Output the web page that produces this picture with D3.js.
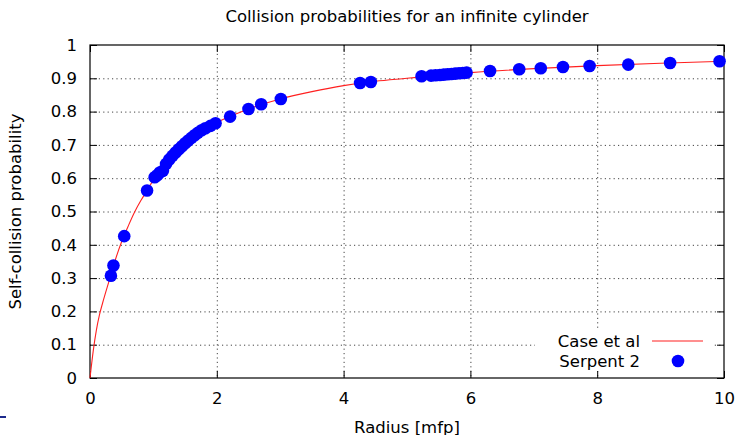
<!DOCTYPE html>
<html>
<head>
<meta charset="utf-8">
<script src="https://cdn.jsdelivr.net/npm/d3@7"></script>
<style>
  body { margin: 0; background: #fff; }
  text { font-family: "DejaVu Sans", sans-serif; fill: #000; }
</style>
</head>
<body>
<div id="chart"></div>
<script>
// Collision probabilities for an infinite cylinder (gnuplot look-alike)

// DATA
// Case et al reference curve
var caseRadius = [0, 0.05, 0.1, 0.15, 0.2, 0.3, 0.4, 0.5, 0.6, 0.7, 0.8, 0.9, 1.0, 1.2, 1.4,
    1.6, 1.8, 2.0, 2.5, 3.0, 3.5, 4.0, 4.5, 5.0, 5.5, 6.0, 7.0, 8.0, 9.0, 10.0];
var caseProb = [0, 0.08, 0.143, 0.19, 0.226, 0.291, 0.355, 0.41, 0.455, 0.497, 0.532, 0.563, 0.595, 0.645, 0.687,
    0.721, 0.749, 0.768, 0.808, 0.838, 0.860, 0.878, 0.891, 0.900, 0.909, 0.917, 0.929, 0.938, 0.945, 0.951];

// Serpent 2 results
var serpentRadius = [0.33, 0.37, 0.54, 0.90, 1.02, 1.06, 1.10, 1.15, 1.20, 1.25, 1.30, 1.35, 1.40, 1.45,
    1.50, 1.55, 1.60, 1.65, 1.70, 1.76, 1.82, 1.90, 1.98, 2.21, 2.50, 2.70, 3.01, 4.26, 4.43,
    5.23, 5.38, 5.45, 5.52, 5.58, 5.64, 5.70, 5.76, 5.82, 5.88, 5.94, 6.31, 6.77, 7.11, 7.46,
    7.88, 8.49, 9.15, 9.93];
var serpentProb = [0.307, 0.338, 0.426, 0.563, 0.603, 0.609, 0.617, 0.622, 0.643, 0.656, 0.667, 0.677, 0.687, 0.696,
    0.705, 0.713, 0.721, 0.729, 0.736, 0.744, 0.750, 0.757, 0.765, 0.785, 0.808, 0.822, 0.838, 0.886, 0.889,
    0.906, 0.908, 0.909, 0.910, 0.911, 0.912, 0.913, 0.914, 0.915, 0.916, 0.917, 0.922, 0.927, 0.930, 0.934,
    0.937, 0.941, 0.946, 0.951];

// Ticks
var xTicks = [0, 2, 4, 6, 8, 10];
var xTickLabels = ["0", "2", "4", "6", "8", "10"];
var yTicks = [0, 0.1, 0.2, 0.3, 0.4, 0.5, 0.6, 0.7, 0.8, 0.9, 1];
var yTickLabels = ["0", "0.1", "0.2", "0.3", "0.4", "0.5", "0.6", "0.7", "0.8", "0.9", "1"];

// Legend entries
var legendNames = ["Case et al", "Serpent 2"];

// LAYOUT
var width = 739;
var height = 435;
var plotLeft = 90;
var plotRight = 724;
var plotTop = 45;
var plotBottom = 378;
var fontSize = 16.5;
var tickLen = 7;

var svg = d3
    .select("#chart")
    .append("svg")
    .attr("width", width)
    .attr("height", height);

// Scales
var xScale = d3.scaleLinear().domain([0, 10]).range([plotLeft, plotRight]);
var yScale = d3.scaleLinear().domain([0, 1]).range([plotBottom, plotTop]);

// GRID
var grid = svg.append("g").attr("class", "grid");
grid.selectAll("line.gy")
    .data(yTicks.slice(1, -1))
    .enter()
    .append("line")
    .attr("x1", plotLeft)
    .attr("x2", plotRight)
    .attr("y1", function(d) { return yScale(d) + 0.5; })
    .attr("y2", function(d) { return yScale(d) + 0.5; })
    .attr("stroke", "#444")
    .attr("stroke-width", 1)
    .attr("stroke-dasharray", "1.2,3.2");
grid.selectAll("line.gx")
    .data(xTicks.slice(1, -1))
    .enter()
    .append("line")
    .attr("x1", function(d) { return xScale(d) + 0.5; })
    .attr("x2", function(d) { return xScale(d) + 0.5; })
    .attr("y1", plotTop)
    .attr("y2", plotBottom)
    .attr("stroke", "#444")
    .attr("stroke-width", 1)
    .attr("stroke-dasharray", "1.2,3.2");

// AXES (ticks pointing inward, mirrored on top and right)
var xAxis = d3.axisBottom(xScale)
    .tickValues(xTicks)
    .tickFormat(function(d, i) { return xTickLabels[i]; })
    .tickSize(-tickLen)
    .tickPadding(14);
var yAxis = d3.axisLeft(yScale)
    .tickValues(yTicks)
    .tickFormat(function(d, i) { return yTickLabels[i]; })
    .tickSize(-tickLen)
    .tickPadding(13);

var gx = svg.append("g")
    .attr("transform", "translate(0," + plotBottom + ")")
    .call(xAxis);
var gy = svg.append("g")
    .attr("transform", "translate(" + plotLeft + ",0)")
    .call(yAxis);
svg.append("g")
    .attr("transform", "translate(0," + plotTop + ")")
    .call(d3.axisTop(xScale).tickValues(xTicks).tickFormat("").tickSize(-tickLen));
svg.append("g")
    .attr("transform", "translate(" + plotRight + ",0)")
    .call(d3.axisRight(yScale).tickValues(yTicks).tickFormat("").tickSize(-tickLen));

svg.selectAll(".domain").remove();
svg.selectAll(".tick line").attr("stroke", "#000");
svg.selectAll(".tick text")
    .style("font-family", "'DejaVu Sans', sans-serif")
    .style("font-size", fontSize + "px")
    .attr("fill", "#000");

// Border
svg.append("rect")
    .attr("x", plotLeft)
    .attr("y", plotTop)
    .attr("width", plotRight - plotLeft)
    .attr("height", plotBottom - plotTop)
    .attr("fill", "none")
    .attr("stroke", "#000")
    .attr("stroke-width", 1.2);

// LEGEND background (opaque key)
svg.append("rect")
    .attr("x", 535)
    .attr("y", 331)
    .attr("width", 178)
    .attr("height", 40)
    .attr("fill", "#fff");

// CASE ET AL CURVE
var caseData = caseRadius.map(function(r, i) { return [r, caseProb[i]]; });
var line = d3.line()
    .x(function(d) { return xScale(d[0]); })
    .y(function(d) { return yScale(d[1]); })
    .curve(d3.curveMonotoneX);
svg.append("path")
    .datum(caseData)
    .attr("d", line)
    .attr("fill", "none")
    .attr("stroke", "#ff2020")
    .attr("stroke-width", 1.1);

// SERPENT 2 POINTS
var serpentData = serpentRadius.map(function(r, i) { return [r, serpentProb[i]]; });
svg.append("g")
    .selectAll("circle")
    .data(serpentData)
    .enter()
    .append("circle")
    .attr("cx", function(d) { return xScale(d[0]); })
    .attr("cy", function(d) { return yScale(d[1]); })
    .attr("r", 6.3)
    .attr("fill", "#0000ff");

// LEGEND
var legend = svg.append("g").attr("class", "legend");
legend.selectAll("text")
    .data(legendNames)
    .enter()
    .append("text")
    .attr("x", 640)
    .attr("y", function(d, i) { return 347 + i * 20; })
    .attr("text-anchor", "end")
    .style("font-size", fontSize + "px")
    .text(function(d) { return d; });
legend.append("line")
    .attr("x1", 652)
    .attr("x2", 703)
    .attr("y1", 341)
    .attr("y2", 341)
    .attr("stroke", "#ff2020")
    .attr("stroke-width", 1.1);
legend.append("circle")
    .attr("cx", 678)
    .attr("cy", 361)
    .attr("r", 6.3)
    .attr("fill", "#0000ff");

// TITLES
svg.append("text")
    .attr("x", (plotLeft + plotRight) / 2)
    .attr("y", 22)
    .attr("text-anchor", "middle")
    .style("font-size", fontSize + "px")
    .text("Collision probabilities for an infinite cylinder");
svg.append("text")
    .attr("x", (plotLeft + plotRight) / 2)
    .attr("y", 433)
    .attr("text-anchor", "middle")
    .style("font-size", fontSize + "px")
    .text("Radius [mfp]");
svg.append("text")
    .attr("transform", "translate(21," + (plotTop + plotBottom) / 2 + ")rotate(-90)")
    .attr("text-anchor", "middle")
    .style("font-size", fontSize + "px")
    .text("Self-collision probability");

// Stray mark at lower left of the original image
svg.append("rect")
    .attr("x", 0)
    .attr("y", 416)
    .attr("width", 6)
    .attr("height", 2)
    .attr("fill", "#1c2a8c");
</script>
</body>
</html>
